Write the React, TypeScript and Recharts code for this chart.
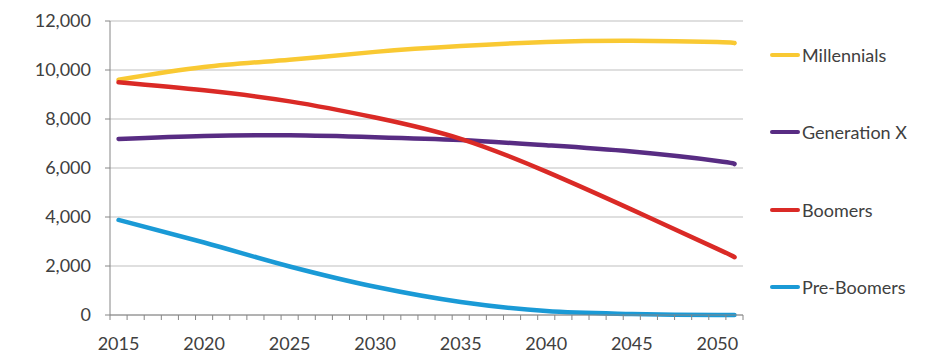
import React from 'react';
import { LineChart, Line, XAxis, YAxis, CartesianGrid } from 'recharts';

const categories = [
  2015, 2016, 2017, 2018, 2019, 2020, 2021, 2022, 2023, 2024, 2025, 2026, 2027,
  2028, 2029, 2030, 2031, 2032, 2033, 2034, 2035, 2036, 2037, 2038, 2039, 2040,
  2041, 2042, 2043, 2044, 2045, 2046, 2047, 2048, 2049, 2050, 2051,
];

const sampleYears = [2015, 2020, 2025, 2030, 2035, 2040, 2045, 2050, 2051];
const millennials = [9600, 10120, 10420, 10740, 10980, 11140, 11190, 11140, 11100];
const generationX = [7185, 7310, 7335, 7260, 7140, 6930, 6670, 6290, 6160];
const boomers = [9500, 9170, 8720, 8060, 7190, 5850, 4300, 2700, 2360];
const preBoomers = [3880, 2960, 1980, 1150, 530, 160, 40, 0, 0];

const yTicks = [0, 2000, 4000, 6000, 8000, 10000, 12000];

const seriesList = [
  { key: 'Millennials', values: millennials, color: '#F9C933', curve: 'natural' },
  { key: 'Generation X', values: generationX, color: '#582C83', curve: 'natural' },
  { key: 'Boomers', values: boomers, color: '#DA2A26', curve: 'natural' },
  { key: 'Pre-Boomers', values: preBoomers, color: '#1A9AD6', curve: 'monotone' },
];

const data = categories.map((year) => {
  const row: Record<string, number | null> = { year };
  const idx = sampleYears.indexOf(year);
  seriesList.forEach((s) => {
    row[s.key] = idx >= 0 ? s.values[idx] : null;
  });
  return row;
});

const FONT = 'Lato, "Open Sans", sans-serif';
const TEXT = '#404040';
const AXIS = '#868686';

const TICK_SIZE = 6;
const TICK_MARGIN = 16;

const XTick = (props: any) => {
  const { x, y, payload, index, visibleTicksCount } = props;
  const off = payload && payload.offset != null ? payload.offset : 0;
  const axisY = y - TICK_SIZE - TICK_MARGIN;
  const year = Number(payload.value);
  return (
    <g>
      <line x1={x - off} x2={x - off} y1={axisY} y2={axisY + 5} stroke={AXIS} strokeWidth={1} />
      {index === visibleTicksCount - 1 && (
        <line x1={x + off} x2={x + off} y1={axisY} y2={axisY + 5} stroke={AXIS} strokeWidth={1} />
      )}
      {year % 5 === 0 && (
        <text x={x} y={y} dy="0.71em" textAnchor="middle" fill={TEXT} fontSize={18} fontFamily={FONT}>
          {year}
        </text>
      )}
    </g>
  );
};

const LegendBlock = () => (
  <div style={{ position: 'absolute', left: 770, top: 44, fontFamily: FONT, fontSize: 18, color: TEXT }}>
    {seriesList.map((s) => (
      <div key={s.key} style={{ height: 77.4, display: 'flex', alignItems: 'flex-start' }}>
        <div style={{ display: 'flex', alignItems: 'center', height: 22 }}>
          <div style={{ width: 30, height: 4, borderRadius: 2, background: s.color, marginRight: 2 }} />
          <span style={{ whiteSpace: 'nowrap' }}>{s.key}</span>
        </div>
      </div>
    ))}
  </div>
);

export default function App() {
  return (
    <div style={{ position: 'absolute', left: 0, top: 0, width: 933, height: 356, background: '#fff' }}>
      <LineChart width={933} height={356} data={data} margin={{ top: 21, right: 190, bottom: 0, left: 0 }}>
        <CartesianGrid horizontal vertical={false} stroke="#BFBFBF" strokeWidth={1} />
        <XAxis
          dataKey="year"
          type="category"
          scale="band"
          interval={0}
          height={41}
          axisLine={{ stroke: AXIS }}
          tickLine={false}
          tickSize={TICK_SIZE}
          tickMargin={TICK_MARGIN}
          tick={<XTick />}
        />
        <YAxis
          type="number"
          domain={[0, 12000]}
          ticks={yTicks}
          width={110}
          axisLine={{ stroke: AXIS }}
          tickLine={{ stroke: AXIS }}
          tickSize={5}
          tickMargin={14}
          tickFormatter={(v: number) => v.toLocaleString('en-US')}
          tick={{ fill: TEXT, fontSize: 18, fontFamily: FONT }}
        />
        {seriesList.map((s) => (
          <Line
            key={s.key}
            dataKey={s.key}
            name={s.key}
            type={s.curve as any}
            stroke={s.color}
            strokeWidth={4.5}
            strokeLinecap="round"
            dot={false}
            activeDot={false}
            connectNulls
            isAnimationActive={false}
          />
        ))}
      </LineChart>
      <LegendBlock />
    </div>
  );
}
